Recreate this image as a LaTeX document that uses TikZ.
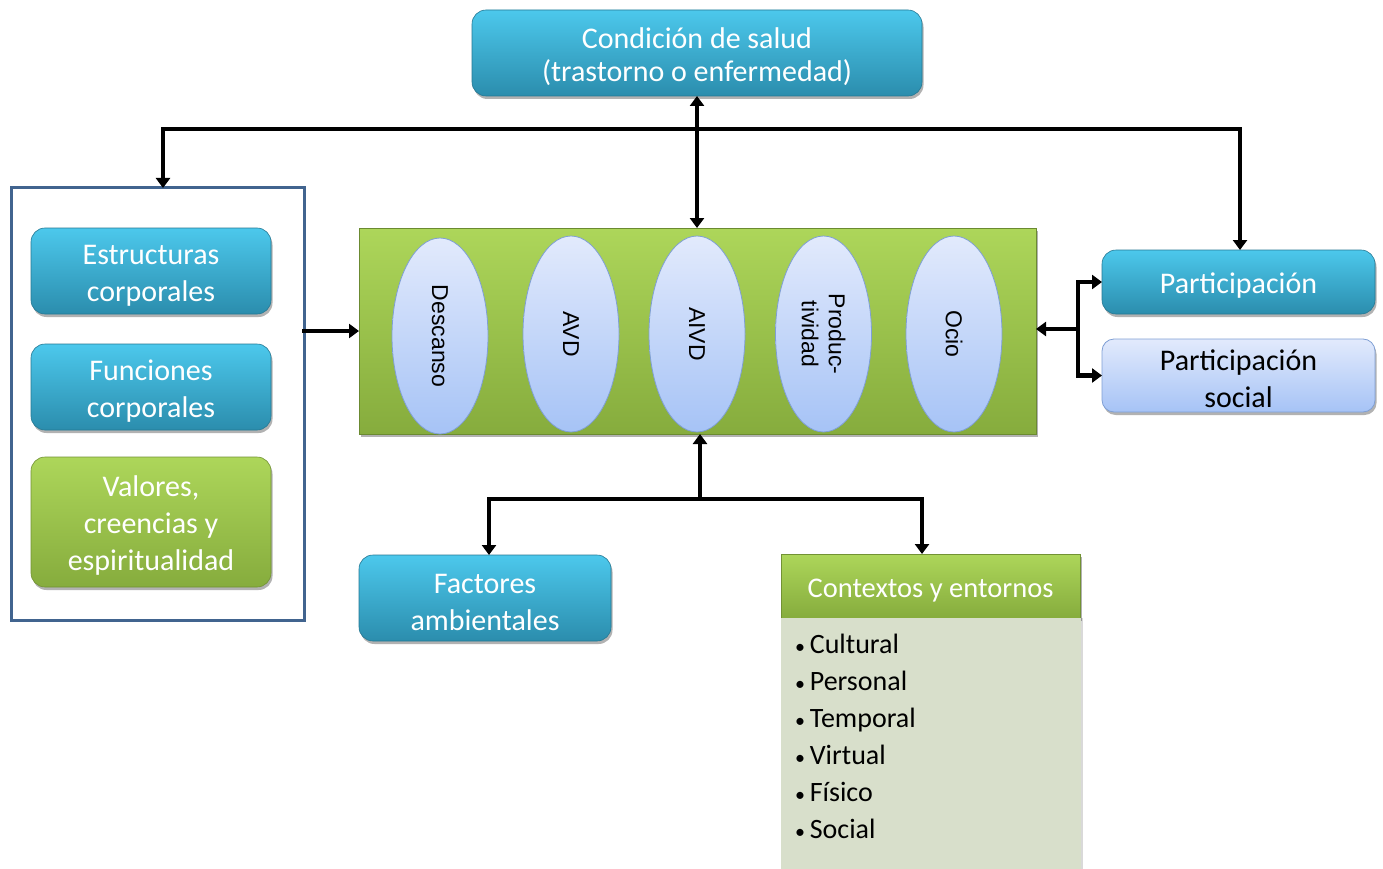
\documentclass[tikz,border=0pt]{standalone}
\usepackage{fontspec}
\setmainfont{Carlito}
\newfontfamily\arialf{Liberation Sans}
\usetikzlibrary{shadows,arrows.meta,shapes.geometric}
\definecolor{cyanT}{HTML}{4CC8EC}
\definecolor{cyanB}{HTML}{2B8DAD}
\definecolor{greenT}{HTML}{ADD65A}
\definecolor{greenB}{HTML}{86AC3D}
\definecolor{lbT}{HTML}{E2EAFC}
\definecolor{lbB}{HTML}{A6C3F6}
\definecolor{lbD}{HTML}{7F9FD4}
\definecolor{frameblue}{HTML}{41648F}
\definecolor{listbg}{HTML}{D8DFCB}
\newcommand\tstrut{\rule{0pt}{28pt}}
\newcommand\smbul{{\fontsize{20}{20}\selectfont\textbullet}\,}
\begin{document}
\begin{tikzpicture}[x=1pt,y=-1pt,
  shad/.style={drop shadow={shadow xshift=1.5pt,shadow yshift=-3pt,opacity=0.3,fill=black}},
  boxfont/.style={font=\fontsize{30}{37}\selectfont},
  cbox/.style={shad,boxfont,rounded corners=14pt,top color=cyanT,bottom color=cyanB,draw=cyanB!85!black,line width=0.6pt,text=white,align=center,inner sep=0pt,outer sep=0pt},
  gbox/.style={shad,boxfont,rounded corners=14pt,top color=greenT,bottom color=greenB,draw=greenB!85!black,line width=0.6pt,text=white,align=center,inner sep=0pt,outer sep=0pt},
  lbox/.style={shad,boxfont,rounded corners=12pt,top color=lbT,bottom color=lbB,draw=lbD,line width=0.8pt,text=black,align=center,inner sep=0pt,outer sep=0pt},
  oval/.style={ellipse,top color=lbT,bottom color=lbB,draw=lbD,line width=0.8pt,minimum width=96pt,minimum height=196pt,inner sep=0pt,outer sep=0pt},
  ovaltext/.style={font=\arialf\fontsize{23}{27}\selectfont,rotate=-90,align=center,text=black},
  conn/.style={line width=4.2pt,line cap=rect},
  arr/.style={conn,-{Triangle[length=10pt,width=14pt]}},
  arrb/.style={conn,{Triangle[length=10pt,width=14pt]}-{Triangle[length=10pt,width=14pt]}}
]
\useasboundingbox (0,0) rectangle (1383,869);

% top box
\node[cbox,font=\fontsize{30}{33}\selectfont,minimum width=450pt,minimum height=86pt] (cond) at (697,53) {\tstrut Condición de salud\\(trastorno o enfermedad)};

% left container
\node[draw=frameblue,line width=3pt,fill=white,minimum width=293pt,minimum height=432pt,inner sep=0pt,outer sep=0pt] (cont) at (157.5,404) {};
\node[cbox,minimum width=240pt,minimum height=86pt] (est) at (151,271) {\tstrut Estructuras\\corporales};
\node[cbox,minimum width=240pt,minimum height=86pt] (fun) at (151,387) {\tstrut Funciones\\corporales};
\node[gbox,minimum width=240pt,minimum height=130pt] (val) at (151,522) {\tstrut Valores,\\creencias y\\espiritualidad};

% central green area
\node[shad,top color=greenT,bottom color=greenB,draw=greenB!80!black,line width=1pt,minimum width=677pt,minimum height=206pt,inner sep=0pt,outer sep=0pt] (act) at (697.5,331) {};
\node[oval] (e1) at (440,336) {};
\node[ovaltext] at (e1) {Descanso};
\node[oval] (e2) at (571,334) {};
\node[ovaltext] at (e2) {AVD};
\node[oval] (e3) at (697,334) {};
\node[ovaltext] at (e3) {AIVD};
\node[oval] (e4) at (823.5,334) {};
\node[ovaltext] at (e4) {Produc-\\tividad};
\node[oval] (e5) at (954,334) {};
\node[ovaltext] at (e5) {Ocio};

% right boxes
\node[cbox,minimum width=273pt,minimum height=64pt] (part) at (1238.5,282) {\tstrut Participación};
\node[lbox,minimum width=273pt,minimum height=73pt] (psoc) at (1238.5,375.5) {\tstrut Participación\\social};

% bottom boxes
\node[cbox,minimum width=252pt,minimum height=86pt] (fact) at (485,598) {\tstrut Factores\\ambientales};
\node[shad,font=\fontsize{28.5}{34}\selectfont,top color=greenT,bottom color=greenB,draw=greenB!85!black,line width=0.6pt,text=white,minimum width=299pt,minimum height=64pt,inner sep=0pt,outer sep=0pt] (ctxh) at (930.5,586) {\tstrut Contextos y entornos};
\fill[listbg,drop shadow={shadow xshift=1.5pt,shadow yshift=0pt,opacity=0.15,fill=black}] (781,618) rectangle (1081,869);
\node[font=\fontsize{28}{37}\selectfont,anchor=north west,align=left,inner sep=0pt,text=black] (ctxl) at (795,634)
 {\smbul Cultural\\\smbul Personal\\\smbul Temporal\\\smbul Virtual\\\smbul Físico\\\smbul Social};

% connectors
\coordinate (tl) at (163,129);
\coordinate (tr) at (1240,129);
\draw[conn] (tl) -- (tr);
\draw[arr] (tl) -- (tl |- cont.north);
\draw[arr] (tr) -- (tr |- part.north);
\draw[arrb] (cond.south) -- (cond.south |- act.north);
\draw[arr] (cont.east |- act.west) -- (act.west);

\coordinate (rb) at (1078,329);
\draw[arr] (rb) -- (rb -| act.east);
\draw[arrb] (part.west) -- (rb |- part.west) -- (rb |- psoc.west) -- (psoc.west);

\coordinate (bm) at (700,499);
\coordinate (fl) at (489,499);
\coordinate (fr) at (922,499);
\draw[arr] (bm) -- (bm |- act.south);
\draw[arrb] (fl |- fact.north) -- (fl) -- (fr) -- (fr |- ctxh.north);
\end{tikzpicture}
\end{document}
